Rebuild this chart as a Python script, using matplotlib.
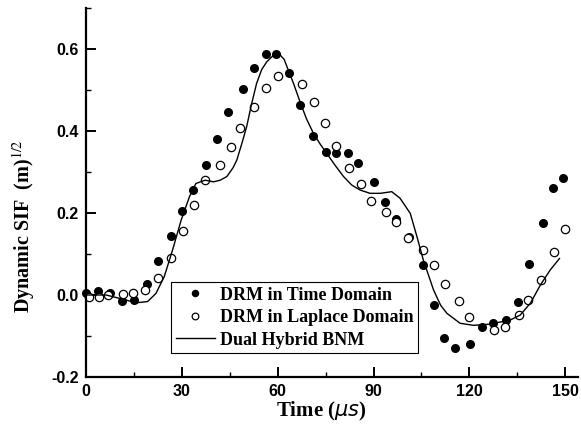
import matplotlib
matplotlib.use('Agg')
import matplotlib.pyplot as plt
from matplotlib.ticker import MultipleLocator

# DRM in time domain (filled circles)
t_time = [0, 3.9, 7.5, 11.2, 15.0, 19.1, 22.6, 26.5, 30.2, 33.5, 37.6, 40.9, 44.5, 49.0,
          52.7, 56.3, 59.4, 63.5, 67.1, 71.0, 75.1, 78.1, 81.9, 85.0, 90.2, 93.6, 97.1,
          101.2, 105.4, 108.8, 112.1, 115.6, 120.2, 123.9, 127.4, 131.5, 135.3, 138.6,
          142.9, 146.2, 149.3]
sif_time = [0.005, 0.010, 0.005, -0.015, -0.011, 0.027, 0.082, 0.144, 0.204, 0.256, 0.316,
            0.381, 0.446, 0.502, 0.553, 0.588, 0.588, 0.541, 0.463, 0.389, 0.349, 0.346,
            0.346, 0.323, 0.276, 0.228, 0.186, 0.142, 0.073, -0.024, -0.104, -0.130,
            -0.120, -0.077, -0.069, -0.061, -0.016, 0.075, 0.176, 0.262, 0.286]

# DRM in Laplace domain (open circles)
t_lap = [0.9, 4.1, 7.0, 11.5, 14.8, 18.5, 22.4, 26.5, 30.3, 33.8, 37.3, 41.8, 45.3, 48.2,
         52.6, 56.2, 60.0, 67.5, 71.4, 74.8, 78.1, 82.3, 86.1, 89.3, 94.0, 97.1, 100.7,
         105.4, 108.8, 112.5, 116.8, 120.0, 127.7, 131.1, 135.6, 138.3, 142.3, 146.6, 150.0]
sif_lap = [-0.004, -0.004, 0.001, 0.002, 0.005, 0.012, 0.041, 0.091, 0.157, 0.220, 0.280,
           0.316, 0.362, 0.408, 0.459, 0.506, 0.533, 0.515, 0.471, 0.419, 0.363, 0.309,
           0.270, 0.229, 0.203, 0.179, 0.140, 0.110, 0.072, 0.027, -0.014, -0.054,
           -0.085, -0.077, -0.049, -0.012, 0.037, 0.104, 0.161]

# Dual hybrid BNM (solid line)
t_bnm = [0, 6.3, 10.4, 15.7, 19.3, 21.9, 24.5, 27.1, 29.8, 32.4, 34.4, 37.3, 39.9, 42.0,
         44.1, 46.0, 47.2, 48.8, 50.3, 51.8, 53.4, 55.0, 56.6, 58.7, 60.8, 62.0, 62.9,
         65.0, 67.0, 69.0, 71.2, 73.3, 75.4, 78.0, 80.6, 83.2, 85.8, 88.9, 92.1, 95.7,
         98.3, 101.5, 103.6, 105.6, 108.8, 111.0, 113.0, 117.1, 121.3, 126.5, 132.8,
         135.9, 139.1, 142.2, 145.3, 148.2]
sif_bnm = [0.0, 0.0, -0.008, -0.019, -0.016, 0.004, 0.045, 0.11, 0.183, 0.24, 0.272, 0.28,
           0.276, 0.28, 0.289, 0.31, 0.329, 0.37, 0.411, 0.465, 0.516, 0.55, 0.569, 0.585,
           0.585, 0.575, 0.557, 0.515, 0.471, 0.43, 0.394, 0.368, 0.345, 0.316, 0.289,
           0.268, 0.256, 0.248, 0.248, 0.252, 0.236, 0.199, 0.142, 0.085, 0.012, -0.025,
           -0.045, -0.069, -0.074, -0.071, -0.061, -0.049, -0.020, 0.024, 0.061, 0.089]

fig = plt.figure(figsize=(5.81, 4.33), dpi=100)
ax = fig.add_axes([86 / 581, 56 / 433, 492 / 581, 369 / 433])

ax.plot(t_time, sif_time, 'o', color='black', markersize=5.5, clip_on=False,
        label='DRM in Time Domain')
ax.plot(t_lap, sif_lap, 'o', markerfacecolor='white', markeredgecolor='black',
        markeredgewidth=0.9, markersize=6, clip_on=False, label='DRM in Laplace Domain')
ax.plot(t_bnm, sif_bnm, '-', color='black', linewidth=1.0, label='Dual Hybrid BNM')

ax.set_xlim(0, 154)
ax.set_ylim(-0.2, 0.7)
ax.set_xticks([0, 30, 60, 90, 120, 150])
ax.set_yticks([-0.2, 0.0, 0.2, 0.4, 0.6])
ax.set_yticklabels(['-0.2', '0.0', '0.2', '0.4', '0.6'])
ax.xaxis.set_minor_locator(MultipleLocator(15))
ax.yaxis.set_minor_locator(MultipleLocator(0.1))

for s in ['top', 'right']:
    ax.spines[s].set_visible(False)
for s in ['left', 'bottom']:
    ax.spines[s].set_linewidth(1.6)

ax.tick_params(which='major', direction='in', length=7, width=1.4,
               labelsize=11.5, pad=5)
ax.tick_params(which='minor', direction='in', length=3.5, width=1.0)
for lab in ax.get_xticklabels() + ax.get_yticklabels():
    lab.set_fontfamily('Liberation Sans')
    lab.set_fontweight('bold')

ax.set_xlabel(r'Time ($\mu s$)', fontfamily='Liberation Serif', fontweight='bold',
              fontsize=15, math_fontfamily='dejavusans', va='top')
ax.xaxis.set_label_coords(0.478, -0.062)
ax.set_ylabel(r'Dynamic SIF  (m)$^{1/2}$', fontfamily='Liberation Serif',
              fontweight='bold', fontsize=14.5, math_fontfamily='stix')
ax.yaxis.set_label_coords(-0.1, 0.41)

leg = ax.legend(loc='lower left', bbox_to_anchor=(0.173, 0.065), frameon=True,
                fancybox=False, edgecolor='black', framealpha=1,
                prop={'family': 'Liberation Serif', 'weight': 'bold', 'size': 13},
                handlelength=2.2, handletextpad=0.25, borderpad=0.25, markerscale=0.8,
                labelspacing=0.3, borderaxespad=0)
leg.get_frame().set_linewidth(0.8)

fig.savefig('out.png', dpi=100)
